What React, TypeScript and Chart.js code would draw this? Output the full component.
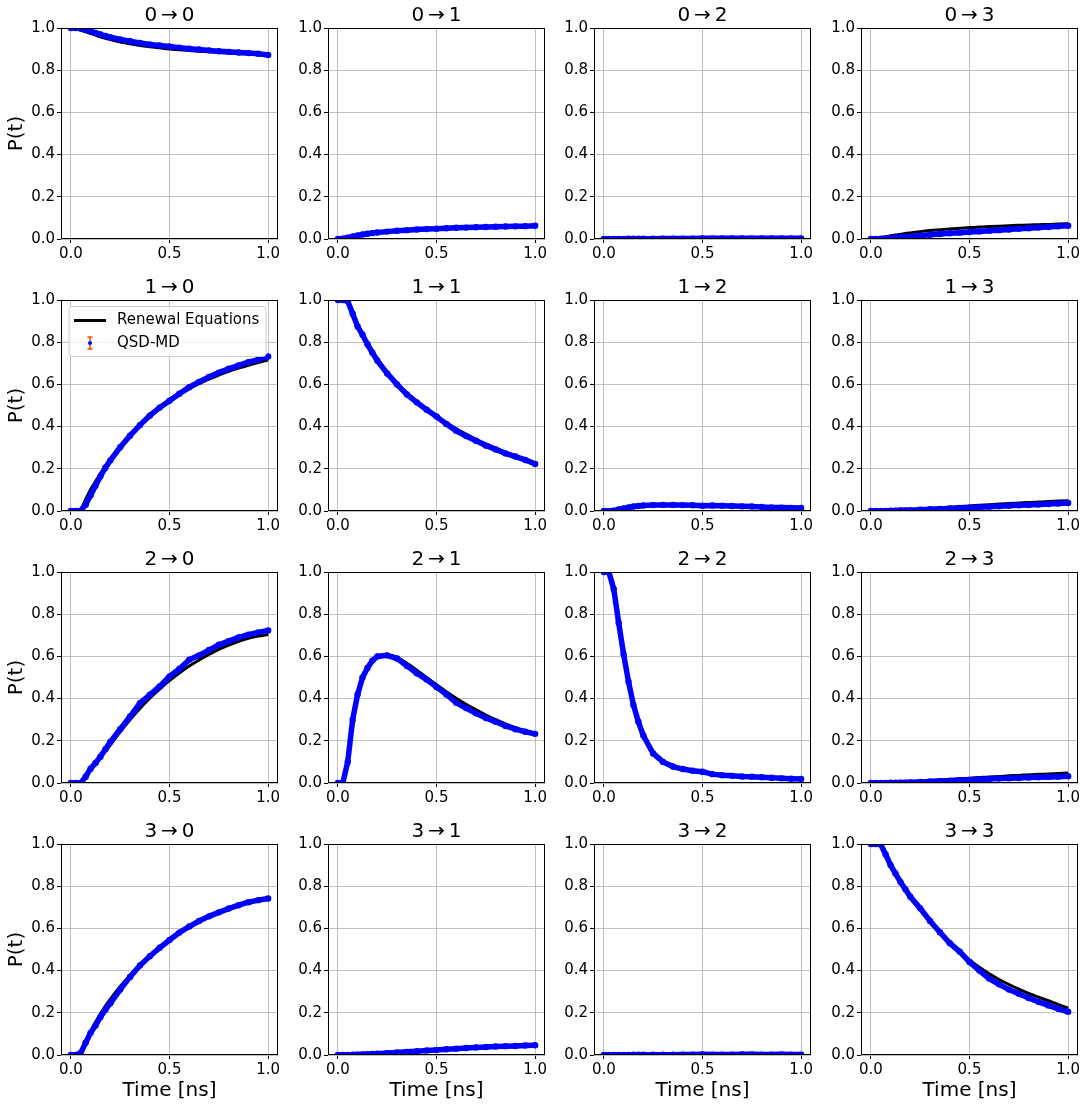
import React, { useEffect, useRef } from 'react';
import { Chart, registerables } from 'chart.js';

Chart.register(...registerables);
Chart.defaults.font.family = '"DejaVu Sans", sans-serif';

// ---------------- data ----------------
const TIME = [0, 0.025, 0.05, 0.075, 0.1, 0.125, 0.15, 0.175, 0.2, 0.25, 0.3, 0.35, 0.4, 0.45, 0.5, 0.55, 0.6, 0.65, 0.7, 0.75, 0.8, 0.85, 0.9, 0.95, 1.0];
const X_TICKS = [0, 0.5, 1.0];
const Y_TICKS = [0, 0.2, 0.4, 0.6, 0.8, 1.0];
const STATES = ['0', '1', '2', '3'];

// Renewal Equations (black curves)
const REN_0_0 = [1.0, 0.997, 0.99, 0.982, 0.974, 0.966, 0.958, 0.951, 0.945, 0.934, 0.925, 0.917, 0.911, 0.906, 0.901, 0.897, 0.893, 0.89, 0.887, 0.884, 0.882, 0.879, 0.877, 0.875, 0.873];
const REN_0_1 = [0, 0.003, 0.008, 0.013, 0.018, 0.022, 0.026, 0.03, 0.033, 0.038, 0.042, 0.045, 0.048, 0.05, 0.052, 0.054, 0.055, 0.057, 0.058, 0.059, 0.06, 0.061, 0.062, 0.063, 0.064];
const REN_0_2 = [0, 0, 0, 0.001, 0.001, 0.001, 0.001, 0.002, 0.002, 0.002, 0.002, 0.002, 0.002, 0.003, 0.003, 0.003, 0.003, 0.003, 0.003, 0.003, 0.003, 0.003, 0.003, 0.003, 0.003];
const REN_0_3 = [0, 0.003, 0.007, 0.011, 0.015, 0.019, 0.022, 0.026, 0.029, 0.035, 0.04, 0.044, 0.048, 0.051, 0.054, 0.057, 0.059, 0.061, 0.063, 0.065, 0.066, 0.068, 0.069, 0.071, 0.072];
const REN_1_0 = [0, 0, 0.008, 0.055, 0.102, 0.14, 0.177, 0.211, 0.244, 0.304, 0.358, 0.406, 0.449, 0.487, 0.521, 0.552, 0.579, 0.603, 0.625, 0.644, 0.662, 0.677, 0.691, 0.704, 0.715];
const REN_1_1 = [1, 1, 0.99, 0.94, 0.885, 0.84, 0.797, 0.757, 0.72, 0.655, 0.6, 0.553, 0.512, 0.478, 0.447, 0.418, 0.39, 0.364, 0.34, 0.318, 0.298, 0.279, 0.262, 0.245, 0.228];
const REN_1_2 = [0, 0, 0.002, 0.006, 0.011, 0.016, 0.02, 0.023, 0.025, 0.027, 0.028, 0.028, 0.027, 0.026, 0.025, 0.024, 0.023, 0.022, 0.021, 0.02, 0.019, 0.018, 0.017, 0.016, 0.015];
const REN_1_3 = [0, 0, 0, 0.001, 0.002, 0.003, 0.004, 0.005, 0.006, 0.009, 0.012, 0.015, 0.018, 0.021, 0.024, 0.027, 0.03, 0.033, 0.035, 0.038, 0.04, 0.043, 0.045, 0.047, 0.049];
const REN_2_0 = [0, 0, 0.005, 0.03, 0.06, 0.09, 0.12, 0.15, 0.18, 0.243, 0.3, 0.353, 0.402, 0.445, 0.485, 0.521, 0.554, 0.583, 0.609, 0.633, 0.653, 0.671, 0.686, 0.696, 0.704];
const REN_2_1 = [0, 0, 0.12, 0.31, 0.43, 0.505, 0.55, 0.58, 0.597, 0.605, 0.595, 0.567, 0.535, 0.5, 0.466, 0.433, 0.402, 0.373, 0.347, 0.322, 0.3, 0.28, 0.262, 0.247, 0.235];
const REN_2_2 = [1, 1, 0.93, 0.77, 0.615, 0.485, 0.375, 0.29, 0.225, 0.14, 0.097, 0.076, 0.063, 0.054, 0.047, 0.042, 0.037, 0.034, 0.031, 0.028, 0.026, 0.024, 0.022, 0.02, 0.019];
const REN_2_3 = [0, 0, 0, 0.001, 0.002, 0.003, 0.004, 0.005, 0.006, 0.008, 0.011, 0.014, 0.017, 0.02, 0.023, 0.026, 0.029, 0.031, 0.034, 0.036, 0.039, 0.041, 0.043, 0.045, 0.047];
const REN_3_0 = [0, 0, 0.015, 0.065, 0.112, 0.155, 0.195, 0.232, 0.265, 0.325, 0.378, 0.428, 0.47, 0.51, 0.545, 0.578, 0.607, 0.633, 0.655, 0.675, 0.693, 0.709, 0.723, 0.735, 0.745];
const REN_3_1 = [0, 0, 0, 0.001, 0.002, 0.003, 0.004, 0.005, 0.006, 0.009, 0.012, 0.015, 0.018, 0.021, 0.024, 0.027, 0.03, 0.033, 0.036, 0.038, 0.04, 0.042, 0.044, 0.046, 0.048];
const REN_3_2 = [0, 0, 0, 0, 0.001, 0.001, 0.001, 0.001, 0.001, 0.001, 0.001, 0.002, 0.002, 0.002, 0.002, 0.002, 0.002, 0.002, 0.002, 0.002, 0.002, 0.002, 0.002, 0.002, 0.002];
const REN_3_3 = [1, 1, 0.995, 0.955, 0.905, 0.862, 0.822, 0.785, 0.75, 0.697, 0.637, 0.583, 0.534, 0.49, 0.451, 0.416, 0.385, 0.358, 0.334, 0.312, 0.292, 0.274, 0.257, 0.239, 0.222];

// QSD-MD (blue points)
const QSD_0_0 = [1.0, 1.0, 0.998, 0.993, 0.985, 0.977, 0.97, 0.962, 0.956, 0.946, 0.937, 0.929, 0.922, 0.917, 0.912, 0.907, 0.902, 0.898, 0.894, 0.89, 0.887, 0.884, 0.881, 0.878, 0.872];
const QSD_0_1 = [0, 0.002, 0.006, 0.012, 0.017, 0.021, 0.025, 0.028, 0.031, 0.035, 0.039, 0.042, 0.045, 0.047, 0.049, 0.051, 0.053, 0.054, 0.056, 0.057, 0.058, 0.059, 0.06, 0.061, 0.063];
const QSD_0_2 = [0, 0, 0, 0, 0, 0.001, 0.001, 0.001, 0.001, 0.001, 0.002, 0.002, 0.002, 0.002, 0.003, 0.003, 0.003, 0.003, 0.003, 0.003, 0.003, 0.003, 0.003, 0.003, 0.003];
const QSD_0_3 = [0, 0, 0.001, 0.002, 0.004, 0.006, 0.008, 0.01, 0.012, 0.016, 0.02, 0.024, 0.027, 0.03, 0.033, 0.036, 0.039, 0.042, 0.045, 0.048, 0.051, 0.054, 0.057, 0.06, 0.063];
const QSD_1_0 = [0, 0, 0.002, 0.03, 0.075, 0.12, 0.165, 0.205, 0.24, 0.302, 0.357, 0.407, 0.452, 0.49, 0.523, 0.556, 0.587, 0.612, 0.635, 0.656, 0.674, 0.69, 0.705, 0.717, 0.732];
const QSD_1_1 = [1, 1, 0.995, 0.935, 0.875, 0.835, 0.79, 0.75, 0.713, 0.652, 0.6, 0.552, 0.515, 0.48, 0.448, 0.412, 0.38, 0.355, 0.333, 0.31, 0.292, 0.273, 0.258, 0.242, 0.223];
const QSD_1_2 = [0, 0, 0.002, 0.007, 0.012, 0.017, 0.021, 0.024, 0.026, 0.028, 0.029, 0.029, 0.028, 0.027, 0.025, 0.026, 0.025, 0.024, 0.022, 0.021, 0.019, 0.017, 0.016, 0.015, 0.014];
const QSD_1_3 = [0, 0, 0, 0, 0.001, 0.002, 0.003, 0.003, 0.004, 0.006, 0.008, 0.01, 0.012, 0.014, 0.016, 0.018, 0.02, 0.022, 0.025, 0.027, 0.029, 0.031, 0.033, 0.035, 0.038];
const QSD_2_0 = [0, 0, 0, 0.03, 0.068, 0.095, 0.125, 0.16, 0.195, 0.255, 0.315, 0.378, 0.418, 0.458, 0.505, 0.54, 0.584, 0.605, 0.63, 0.655, 0.672, 0.69, 0.703, 0.714, 0.723];
const QSD_2_1 = [0, 0, 0.1, 0.3, 0.42, 0.5, 0.545, 0.58, 0.6, 0.605, 0.59, 0.555, 0.52, 0.49, 0.455, 0.42, 0.38, 0.355, 0.33, 0.308, 0.29, 0.27, 0.255, 0.243, 0.233];
const QSD_2_2 = [1, 1, 0.92, 0.76, 0.61, 0.48, 0.37, 0.29, 0.225, 0.14, 0.1, 0.078, 0.066, 0.058, 0.053, 0.042, 0.037, 0.034, 0.031, 0.03, 0.027, 0.025, 0.022, 0.02, 0.019];
const QSD_2_3 = [0, 0, 0, 0, 0.001, 0.001, 0.002, 0.002, 0.003, 0.005, 0.007, 0.009, 0.011, 0.013, 0.015, 0.017, 0.019, 0.021, 0.022, 0.024, 0.026, 0.027, 0.029, 0.03, 0.032];
const QSD_3_0 = [0, 0, 0.01, 0.058, 0.105, 0.14, 0.18, 0.215, 0.245, 0.31, 0.37, 0.424, 0.468, 0.508, 0.545, 0.58, 0.609, 0.635, 0.657, 0.676, 0.694, 0.71, 0.724, 0.734, 0.742];
const QSD_3_1 = [0, 0, 0, 0.001, 0.002, 0.003, 0.004, 0.005, 0.006, 0.009, 0.012, 0.015, 0.018, 0.021, 0.024, 0.027, 0.03, 0.033, 0.036, 0.038, 0.04, 0.042, 0.043, 0.045, 0.046];
const QSD_3_2 = [0, 0, 0, 0, 0, 0, 0.001, 0.001, 0.001, 0.001, 0.001, 0.001, 0.002, 0.002, 0.003, 0.002, 0.002, 0.002, 0.003, 0.003, 0.002, 0.002, 0.003, 0.002, 0.002];
const QSD_3_3 = [1, 1, 0.998, 0.95, 0.9, 0.86, 0.82, 0.785, 0.75, 0.695, 0.635, 0.582, 0.53, 0.49, 0.441, 0.4, 0.362, 0.335, 0.31, 0.29, 0.27, 0.252, 0.235, 0.219, 0.205];

const RENEWAL = [
  [REN_0_0, REN_0_1, REN_0_2, REN_0_3],
  [REN_1_0, REN_1_1, REN_1_2, REN_1_3],
  [REN_2_0, REN_2_1, REN_2_2, REN_2_3],
  [REN_3_0, REN_3_1, REN_3_2, REN_3_3],
];
const QSD = [
  [QSD_0_0, QSD_0_1, QSD_0_2, QSD_0_3],
  [QSD_1_0, QSD_1_1, QSD_1_2, QSD_1_3],
  [QSD_2_0, QSD_2_1, QSD_2_2, QSD_2_3],
  [QSD_3_0, QSD_3_1, QSD_3_2, QSD_3_3],
];

const LEGEND_LABELS = ['Renewal Equations', 'QSD-MD'];

// ---------------- layout ----------------
const PLOT_LEFT = [61, 328, 594, 861];
const PLOT_TOP = [28, 300, 572, 844];
const PLOT_W = 217;
const PLOT_H = 211;
const Y_AXIS_W = 60;
const X_AXIS_H = 51;
const TITLE_H = 28;
const RIGHT_PAD = 14;
const CW = Y_AXIS_W + PLOT_W + RIGHT_PAD;
const CH = TITLE_H + PLOT_H + X_AXIS_H;
const FONT = '"DejaVu Sans", sans-serif';

const framePlugin = {
  id: 'frame',
  afterDatasetsDraw(chart: any) {
    const { ctx, chartArea: a } = chart;
    ctx.save();
    ctx.strokeStyle = '#000';
    ctx.lineWidth = 1;
    ctx.strokeRect(a.left + 0.5, a.top + 0.5, a.right - a.left - 1, a.bottom - a.top - 1);
    ctx.restore();
  },
};

const legendPlugin = {
  id: 'boxLegend',
  afterDraw(chart: any) {
    const { ctx, chartArea: a } = chart;
    const x0 = a.left + 8;
    const y0 = a.top + 6.5;
    const w = 197;
    const h = 50;
    const r = 3;
    ctx.save();
    ctx.beginPath();
    ctx.moveTo(x0 + r, y0);
    ctx.lineTo(x0 + w - r, y0);
    ctx.quadraticCurveTo(x0 + w, y0, x0 + w, y0 + r);
    ctx.lineTo(x0 + w, y0 + h - r);
    ctx.quadraticCurveTo(x0 + w, y0 + h, x0 + w - r, y0 + h);
    ctx.lineTo(x0 + r, y0 + h);
    ctx.quadraticCurveTo(x0, y0 + h, x0, y0 + h - r);
    ctx.lineTo(x0, y0 + r);
    ctx.quadraticCurveTo(x0, y0, x0 + r, y0);
    ctx.closePath();
    ctx.fillStyle = 'rgba(255,255,255,0.8)';
    ctx.fill();
    ctx.strokeStyle = '#cccccc';
    ctx.lineWidth = 1;
    ctx.stroke();

    // entry 1: black line
    const y1 = y0 + 14;
    ctx.beginPath();
    ctx.moveTo(x0 + 5, y1);
    ctx.lineTo(x0 + 37, y1);
    ctx.strokeStyle = '#000';
    ctx.lineWidth = 3;
    ctx.stroke();

    // entry 2: error bar marker
    const y2 = y0 + 36.5;
    const xe = x0 + 21;
    ctx.strokeStyle = '#ff4500';
    ctx.lineWidth = 1.5;
    ctx.beginPath();
    ctx.moveTo(xe, y2 - 6);
    ctx.lineTo(xe, y2 + 6);
    ctx.moveTo(xe - 2.5, y2 - 6);
    ctx.lineTo(xe + 2.5, y2 - 6);
    ctx.moveTo(xe - 2.5, y2 + 6);
    ctx.lineTo(xe + 2.5, y2 + 6);
    ctx.stroke();
    ctx.fillStyle = '#0000ff';
    ctx.beginPath();
    ctx.arc(xe, y2, 2, 0, Math.PI * 2);
    ctx.fill();

    ctx.fillStyle = '#000';
    ctx.font = '15px ' + FONT;
    ctx.textAlign = 'left';
    ctx.textBaseline = 'middle';
    ctx.fillText(LEGEND_LABELS[0], x0 + 48, y1);
    ctx.fillText(LEGEND_LABELS[1], x0 + 48, y2);
    ctx.restore();
  },
};

function Panel({ row, col }: { row: number; col: number }) {
  const ref = useRef<HTMLCanvasElement>(null);
  useEffect(() => {
    const ren = RENEWAL[row][col];
    const qsd = QSD[row][col];
    const plugins: any[] = [framePlugin];
    if (row === 1 && col === 0) plugins.push(legendPlugin);
    const chart = new Chart(ref.current as HTMLCanvasElement, {
      type: 'line',
      data: {
        datasets: [
          {
            label: LEGEND_LABELS[0],
            data: TIME.map((t, i) => ({ x: t, y: ren[i] })),
            borderColor: '#000000',
            borderWidth: 3,
            pointRadius: 0,
            cubicInterpolationMode: 'monotone',
            fill: false,
            order: 2,
            clip: 0,
          } as any,
          {
            label: LEGEND_LABELS[1],
            data: TIME.map((t, i) => ({ x: t, y: qsd[i] })),
            borderColor: '#0000ff',
            backgroundColor: '#0000ff',
            borderWidth: 5.5,
            pointRadius: 3.2,
            pointBorderWidth: 0,
            pointBackgroundColor: '#0000ff',
            tension: 0,
            fill: false,
            order: 1,
            clip: 0,
          } as any,
        ],
      },
      options: {
        animation: false,
        responsive: false,
        devicePixelRatio: 1,
        events: [],
        layout: { padding: { left: 0, top: 0, right: RIGHT_PAD, bottom: 0 } },
        plugins: {
          legend: { display: false },
          tooltip: { enabled: false },
          title: {
            display: true,
            text: STATES[row] + '\u2009\u2192\u2009' + STATES[col],
            fullSize: false,
            color: '#000',
            font: { family: FONT, size: 20, weight: 'normal' },
            padding: { top: 4, bottom: 0 },
          },
        },
        scales: {
          x: {
            type: 'linear',
            min: -0.05,
            max: 1.05,
            afterBuildTicks: (s: any) => {
              s.ticks = X_TICKS.map((v) => ({ value: v }));
            },
            afterFit: (s: any) => {
              s.height = X_AXIS_H;
            },
            ticks: {
              color: '#000',
              font: { family: FONT, size: 15 },
              padding: 2,
              maxRotation: 0,
              autoSkip: false,
              callback: (v: any) => Number(v).toFixed(1),
            },
            grid: {
              color: '#b0b0b0',
              lineWidth: 0.8,
              tickColor: '#000',
              tickLength: 4,
              tickWidth: 1,
            },
            border: { display: false },
            title: {
              display: row === 3,
              text: 'Time [ns]',
              color: '#000',
              font: { family: FONT, size: 20 },
              padding: { top: 0, bottom: 3 },
            },
          },
          y: {
            type: 'linear',
            min: 0,
            max: 1,
            afterBuildTicks: (s: any) => {
              s.ticks = Y_TICKS.map((v) => ({ value: v }));
            },
            afterFit: (s: any) => {
              s.width = Y_AXIS_W;
            },
            ticks: {
              color: '#000',
              font: { family: FONT, size: 15 },
              padding: 2,
              autoSkip: false,
              callback: (v: any) => Number(v).toFixed(1),
            },
            grid: {
              color: '#b0b0b0',
              lineWidth: 0.8,
              tickColor: '#000',
              tickLength: 4,
              tickWidth: 1,
            },
            border: { display: false },
            title: {
              display: col === 0,
              text: 'P(t)',
              color: '#000',
              font: { family: FONT, size: 20 },
              padding: { top: 4, bottom: 0 },
            },
          },
        },
      } as any,
      plugins,
    });
    return () => chart.destroy();
  }, [row, col]);
  const left = PLOT_LEFT[col] - Y_AXIS_W;
  const top = PLOT_TOP[row] - TITLE_H;
  return (
    <canvas
      ref={ref}
      width={CW}
      height={CH}
      style={{ position: 'absolute', left, top, width: CW, height: CH }}
    />
  );
}

export default function App() {
  const cells: React.ReactElement[] = [];
  for (let r = 0; r < 4; r++) {
    for (let c = 0; c < 4; c++) {
      cells.push(<Panel key={r + '-' + c} row={r} col={c} />);
    }
  }
  return (
    <div style={{ position: 'absolute', left: 0, top: 0, width: 1088, height: 1107, background: '#fff' }}>
      {cells}
    </div>
  );
}
